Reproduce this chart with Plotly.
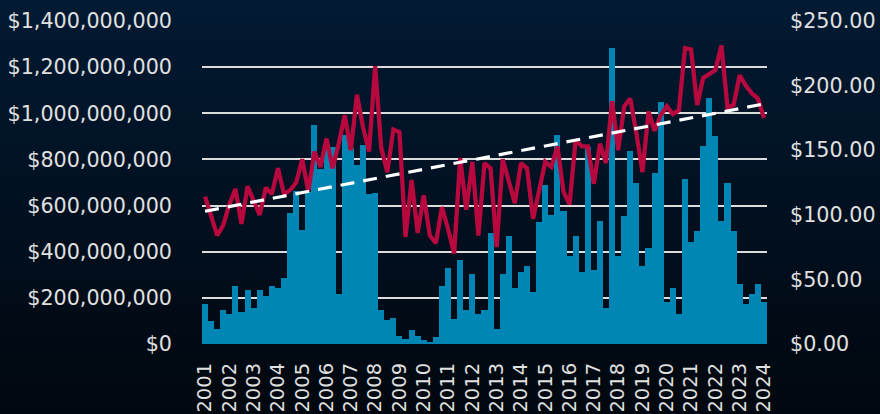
import base64
import numpy as np
import plotly.graph_objects as go

years = [str(y) for y in range(2001, 2025)]
volume_musd = [173, 98, 63, 148, 132, 251, 140, 234, 157, 234, 209, 251, 242, 286, 569, 664,
               495, 660, 949, 760, 855, 855, 216, 906, 850, 776, 861, 650, 653, 147, 105, 113,
               36, 22, 62, 36, 19, 10, 29, 250, 329, 107, 362, 149, 303, 131, 149, 483,
               65, 303, 466, 243, 311, 336, 227, 527, 690, 560, 905, 578, 383, 466, 311, 856,
               320, 534, 156, 1281, 381, 553, 836, 698, 340, 416, 740, 1050, 184, 242, 131, 715,
               440, 491, 860, 1065, 903, 534, 697, 491, 260, 173, 216, 260, 182]
price_usd = [114, 98, 84, 92, 108, 120, 93, 122, 111, 100, 121, 116, 136, 116, 119, 125,
             143, 118, 149, 137, 159, 136, 155, 177, 150, 193, 168, 149, 215, 152, 133, 166,
             164, 83, 127, 86, 115, 84, 78, 106, 89, 70, 144, 104, 141, 84, 140, 136,
             75, 143, 126, 109, 140, 136, 97, 118, 141, 137, 153, 118, 108, 158, 153, 153,
             124, 155, 140, 188, 150, 184, 190, 163, 133, 180, 165, 177, 184, 178, 181, 229,
             228, 185, 206, 209, 212, 231, 183, 185, 208, 200, 194, 190, 175]

n = len(volume_musd)
x = list(range(n))
volume = [v * 1e6 for v in volume_musd]
coef = np.polyfit(x, price_usd, 1)
trend = list(np.polyval(coef, x))

fig = go.Figure()
fig.add_trace(go.Bar(x=x, y=volume, marker=dict(color="#0086b4", line=dict(width=0)),
                     showlegend=False, hoverinfo="skip"))
fig.add_trace(go.Scatter(x=x, y=price_usd, yaxis="y2", mode="lines",
                         line=dict(color="#b8093f", width=4.3, shape="linear"), showlegend=False))
fig.add_trace(go.Scatter(x=x, y=trend, yaxis="y2", mode="lines",
                         line=dict(color="white", width=3.2, dash="14px,9px"), showlegend=False))

svg = ('<svg xmlns="http://www.w3.org/2000/svg" width="880" height="414">'
       '<defs><linearGradient id="g" x1="0" y1="0" x2="0" y2="1">'
       '<stop offset="0" stop-color="#021a33"/><stop offset="1" stop-color="#01070e"/>'
       '</linearGradient></defs><rect width="880" height="414" fill="url(#g)"/></svg>')
src = "data:image/svg+xml;base64," + base64.b64encode(svg.encode()).decode()

L, R, T, B = 202, 113, 21, 70
pw, ph = 880 - L - R, 414 - T - B

fig.update_layout(
    width=880, height=414,
    margin=dict(l=L, r=R, t=T, b=B, pad=0, autoexpand=False),
    paper_bgcolor="#010d1a", plot_bgcolor="rgba(0,0,0,0)",
    bargap=0,
    font=dict(family="DejaVu Sans", size=20.7, color="#e0e0e0"),
    images=[dict(source=src, xref="paper", yref="paper", x=-L / pw, y=1 + T / ph,
                 sizex=880 / pw, sizey=414 / ph, sizing="stretch", layer="below",
                 xanchor="left", yanchor="top")],
    xaxis=dict(range=[-0.5, n - 0.5], tickmode="array", tickvals=list(range(0, n, 4)),
               ticktext=years, tickangle=-90, showgrid=False, zeroline=False,
               ticks="", ticklabelstandoff=14, tickfont=dict(size=19.5), automargin=False),
    yaxis=dict(range=[0, 1.4e9], tickmode="array", tickvals=[i * 2e8 for i in range(8)],
               tickformat="$,.0f", showgrid=True, gridcolor="#dcdcdc", gridwidth=1.6,
               zeroline=False, ticks="", ticklabelstandoff=29, showline=False, automargin=False),
    yaxis2=dict(range=[0, 250], overlaying="y", side="right", tickmode="array",
                tickvals=[0, 50, 100, 150, 200, 250], tickformat="$,.2f", showgrid=False,
                zeroline=False, ticks="", ticklabelstandoff=22, automargin=False),
)

fig.write_html("out.html", config={"displayModeBar": False},
               post_script="document.body.style.margin='0';document.body.style.background='#010d1a';")
